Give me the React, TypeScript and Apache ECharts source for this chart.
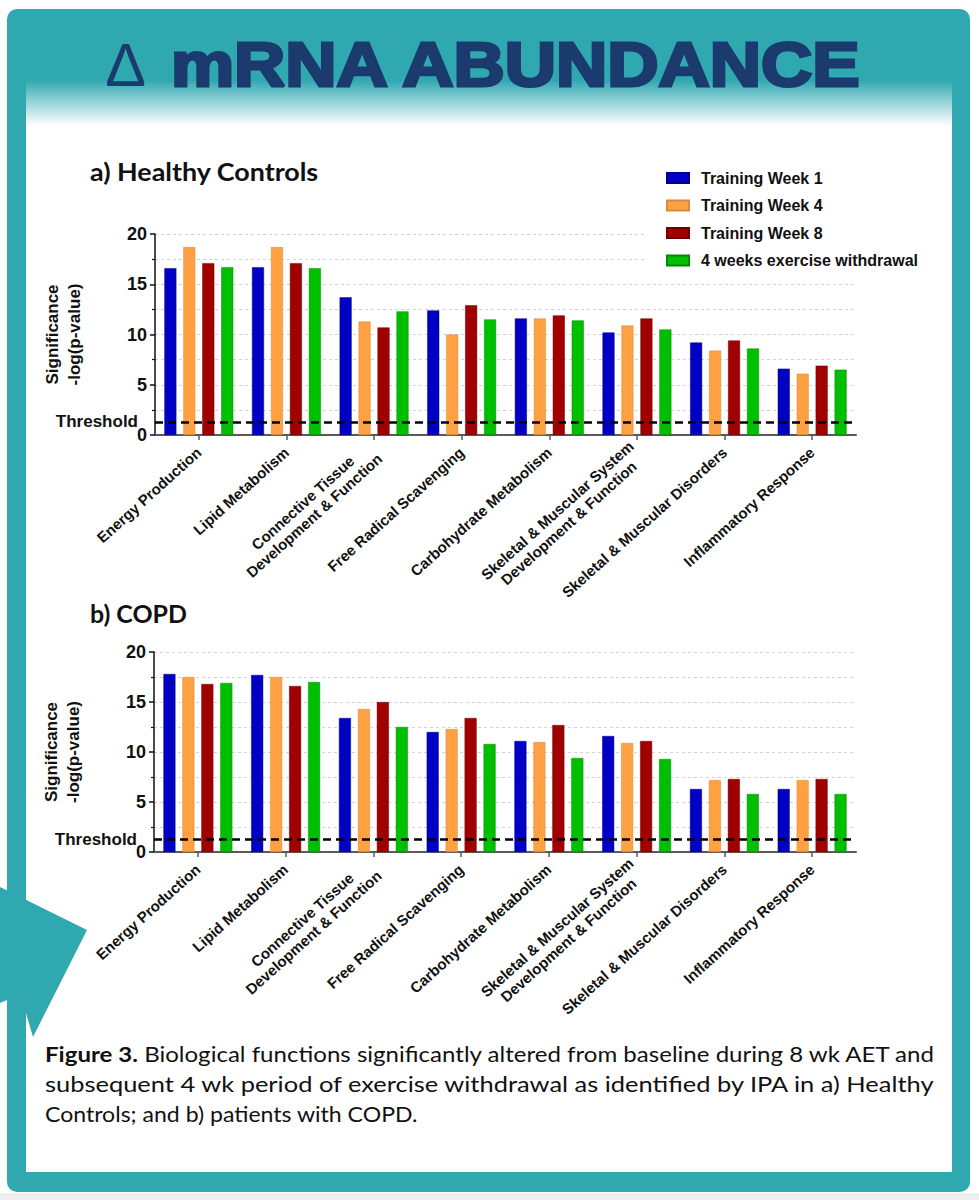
import React, { useEffect, useRef } from "react";
import * as echarts from "echarts";

const categories = [
  "Energy Production",
  "Lipid Metabolism",
  "Connective Tissue\nDevelopment & Function",
  "Free Radical Scavenging",
  "Carbohydrate Metabolism",
  "Skeletal & Muscular System\nDevelopment & Function",
  "Skeletal & Muscular Disorders",
  "Inflammatory Response",
];
const seriesNames = ["Training Week 1", "Training Week 4", "Training Week 8", "4 weeks exercise withdrawal"];

const healthyWeek1 = [16.6, 16.7, 13.7, 12.4, 11.6, 10.2, 9.2, 6.6];
const healthyWeek4 = [18.7, 18.7, 11.3, 10.0, 11.6, 10.9, 8.4, 6.1];
const healthyWeek8 = [17.1, 17.1, 10.7, 12.9, 11.9, 11.6, 9.4, 6.9];
const healthyWithdrawal = [16.7, 16.6, 12.3, 11.5, 11.4, 10.5, 8.6, 6.5];

const copdWeek1 = [17.8, 17.7, 13.4, 12.0, 11.1, 11.6, 6.3, 6.3];
const copdWeek4 = [17.5, 17.5, 14.3, 12.3, 11.0, 10.9, 7.2, 7.2];
const copdWeek8 = [16.8, 16.6, 15.0, 13.4, 12.7, 11.1, 7.3, 7.3];
const copdWithdrawal = [16.9, 17.0, 12.5, 10.8, 9.4, 9.3, 5.8, 5.8];

const thresholdValue = 1.3;
const yMin = 0;
const yMax = 20;
const yInterval = 5;

const deltaSymbol = "\u2206";
const mainTitle = "mRNA ABUNDANCE";
const panelTitles = ["a) Healthy Controls", "b) COPD"];
const yAxisName = "Significance\n-log(p-value)";
const thresholdLabel = "Threshold";
const captionBold = "Figure 3.";
const captionLines = [
  " Biological functions significantly altered from baseline during 8 wk AET and",
  "subsequent 4 wk period of exercise withdrawal as identified by IPA in a) Healthy",
  "Controls; and b) patients with COPD.",
];

const COLORS = ["#0000c4", "#ffa143", "#a10000", "#00bf00"];
const BORDERS = ["#00008a", "#d98a3a", "#6e0000", "#008a00"];
const TEAL = "#2fa8b0";
const NAVY = "#1b3a6e";
const ARIAL = "'Liberation Sans', Arial, sans-serif";
const CAL = "Lato, 'Open Sans', sans-serif";

export default function App() {
  const ref = useRef<HTMLDivElement>(null);

  useEffect(() => {
    document.body.style.margin = "0";
    const el = ref.current as HTMLDivElement;
    const chart = echarts.init(el, null, { renderer: "svg", width: 979, height: 1200 });

    const ctx = document.createElement("canvas").getContext("2d") as CanvasRenderingContext2D;
    const measure = (text: string, font: string) => {
      ctx.font = font;
      return ctx.measureText(text).width;
    };

    const titleSize = 62;
    const titleW = measure(mainTitle, `bold ${titleSize}px ${ARIAL}`);
    const titleScale = 694 / titleW;

    const headSize = 25;
    const headAW = measure(panelTitles[0], `bold ${headSize}px ${CAL}`);
    const headBW = measure(panelTitles[1], `bold ${headSize}px ${CAL}`);

    const capSize = 21;
    const capW = captionLines.map((l, i) =>
      i === 0
        ? measure(captionBold, `bold ${capSize}px ${CAL}`) + measure(l, `${capSize}px ${CAL}`)
        : measure(l, `${capSize}px ${CAL}`)
    );
    const capTargets = [892, 892, 373];
    const capBaselines = [1062, 1092, 1122];

    const labelFont = { fontFamily: ARIAL, fontWeight: "bold" as const, fontSize: 15, color: "#111" };

    const xAxis = (gridIndex: number) => ({
      type: "category",
      gridIndex,
      data: categories,
      boundaryGap: true,
      axisLine: { show: true, lineStyle: { color: "#5a5a5a", width: 2 } },
      axisTick: { show: true, alignWithLabel: true, length: 5, lineStyle: { color: "#5a5a5a", width: 1.5 } },
      splitLine: { show: false },
      axisLabel: {
        interval: 0,
        rotate: 42,
        margin: 15,
        ...labelFont,
        lineHeight: 17,
        formatter: (v: string) => v.split("\n").map((s) => `{c|${s}}`).join("\n"),
        rich: { c: { ...labelFont, lineHeight: 17, align: "center" } },
      },
    });

    const yAxis = (gridIndex: number) => ({
      type: "value",
      gridIndex,
      min: yMin,
      max: yMax,
      interval: yInterval,
      name: yAxisName,
      nameLocation: "middle",
      nameRotate: 90,
      nameGap: 70,
      nameTextStyle: { fontFamily: ARIAL, fontWeight: "bold", fontSize: 17, color: "#111", lineHeight: 22 },
      axisLine: { show: true, lineStyle: { color: "#111", width: 1.5 } },
      axisTick: { show: true, length: 5, lineStyle: { color: "#111", width: 1.5 } },
      minorTick: { show: true, splitNumber: 2, length: 3, lineStyle: { color: "#111", width: 1.2 } },
      axisLabel: { fontFamily: ARIAL, fontWeight: "bold", fontSize: 18, color: "#111", margin: 8 },
      splitLine: { show: true, lineStyle: { color: "#d2d2d2", type: [3, 3], width: 1 } },
      minorSplitLine: { show: true, lineStyle: { color: "#d2d2d2", type: [3, 3], width: 1 } },
    });

    const markLine = {
      silent: true,
      symbol: ["none", "none"],
      lineStyle: { color: "#000", type: [8, 5], width: 2.5 },
      label: {
        show: true,
        position: "start",
        formatter: thresholdLabel,
        distance: 17,
        fontFamily: ARIAL,
        fontWeight: "bold",
        fontSize: 17,
        color: "#111",
      },
      emphasis: { disabled: true },
      data: [{ yAxis: thresholdValue }],
    };

    const bar = (values: number[], i: number, g: number) => {
      const s: any = {
        type: "bar",
        name: seriesNames[i],
        xAxisIndex: g,
        yAxisIndex: g,
        data: values,
        barWidth: 12,
        barGap: "58%",
        itemStyle: { color: COLORS[i], borderColor: BORDERS[i], borderWidth: 0.5 },
        emphasis: { disabled: true },
      };
      if (i === 0) s.markLine = markLine;
      return s;
    };

    const option: any = {
      animation: false,
      backgroundColor: "#ffffff",
      textStyle: { fontFamily: ARIAL },
      grid: [
        { left: 155, top: 234, width: 701, height: 201 },
        { left: 154, top: 652, width: 702, height: 200 },
      ],
      xAxis: [xAxis(0), xAxis(1)],
      yAxis: [yAxis(0), yAxis(1)],
      legend: {
        data: seriesNames,
        orient: "vertical",
        left: 646,
        top: 164,
        backgroundColor: "#ffffff",
        padding: [5, 12, 5, 20],
        itemWidth: 22,
        itemHeight: 10,
        itemGap: 9.5,
        icon: "rect",
        selectedMode: false,
        textStyle: { fontFamily: ARIAL, fontWeight: "bold", fontSize: 16, color: "#111", lineHeight: 18, padding: [0, 0, 0, 7] },
      },
      series: [
        bar(healthyWeek1, 0, 0),
        bar(healthyWeek4, 1, 0),
        bar(healthyWeek8, 2, 0),
        bar(healthyWithdrawal, 3, 0),
        bar(copdWeek1, 0, 1),
        bar(copdWeek4, 1, 1),
        bar(copdWeek8, 2, 1),
        bar(copdWithdrawal, 3, 1),
      ],
      graphic: [
        { type: "rect", z: -20, silent: true, shape: { x: 0, y: 1193, width: 979, height: 7 }, style: { fill: "#efefef" } },
        { type: "rect", z: -19, silent: true, shape: { x: 7, y: 9, width: 963, height: 1183, r: 10 }, style: { fill: TEAL } },
        {
          type: "rect",
          z: -18,
          silent: true,
          shape: { x: 26, y: 80, width: 926, height: 1092 },
          style: {
            fill: new echarts.graphic.LinearGradient(0, 0, 0, 1, [
              { offset: 0, color: TEAL },
              { offset: 0.018, color: "#8ccfd3" },
              { offset: 0.042, color: "#ffffff" },
              { offset: 1, color: "#ffffff" },
            ]),
          },
        },
        {
          type: "polygon",
          z: -17,
          silent: true,
          shape: { points: [[0, 887], [87, 930], [33, 1037], [26, 1013], [7, 1000], [0, 1003]] },
          style: { fill: TEAL },
        },
        {
          type: "text",
          z: 5,
          silent: true,
          x: 107,
          y: 65,
          style: { text: deltaSymbol, fontFamily: ARIAL, fontSize: 61, fill: NAVY, align: "left", verticalAlign: "middle" },
        },
        {
          type: "text",
          z: 5,
          silent: true,
          x: 171,
          y: 65,
          scaleX: titleScale,
          style: {
            text: mainTitle,
            fontFamily: ARIAL,
            fontWeight: "bold",
            fontSize: titleSize,
            fill: NAVY,
            stroke: NAVY,
            lineWidth: 3,
            lineJoin: "round",
            align: "left",
            verticalAlign: "middle",
          },
        },
        {
          type: "text",
          z: 5,
          silent: true,
          x: 90,
          y: 171,
          scaleX: 229 / headAW,
          style: { text: panelTitles[0], fontFamily: CAL, fontWeight: "bold", fontSize: headSize, fill: "#111", align: "left", verticalAlign: "middle" },
        },
        {
          type: "text",
          z: 5,
          silent: true,
          x: 90,
          y: 613,
          scaleX: 97 / headBW,
          style: { text: panelTitles[1], fontFamily: CAL, fontWeight: "bold", fontSize: headSize, fill: "#111", align: "left", verticalAlign: "middle" },
        },
        ...captionLines.map((line, i) => ({
          type: "text",
          z: 5,
          silent: true,
          x: 45,
          y: capBaselines[i] - 8,
          scaleX: capTargets[i] / capW[i],
          style: {
            text: i === 0 ? `{b|${captionBold}}{r|${line}}` : line,
            fontFamily: CAL,
            fontSize: capSize,
            fill: "#111",
            align: "left",
            verticalAlign: "middle",
            rich:
              i === 0
                ? {
                    b: { fontFamily: CAL, fontWeight: "bold", fontSize: capSize, fill: "#111" },
                    r: { fontFamily: CAL, fontSize: capSize, fill: "#111" },
                  }
                : undefined,
          },
        })),
      ],
    };

    chart.setOption(option);
    return () => chart.dispose();
  }, []);

  return <div ref={ref} style={{ width: 979, height: 1200 }} />;
}
